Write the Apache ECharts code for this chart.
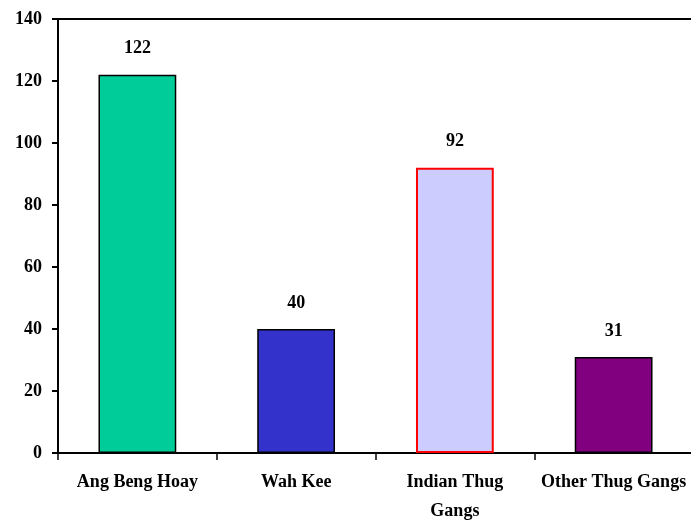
<!DOCTYPE html>
<html><head><meta charset="utf-8">
<script src="https://cdn.jsdelivr.net/npm/echarts@6/dist/echarts.min.js"></script>
<style>html,body{margin:0;padding:0;background:#fff}#c{width:691px;height:521px}</style>
</head><body><div id="c"></div>
<script>
var categories = ['Ang Beng Hoay', 'Wah Kee', 'Indian Thug\nGangs', 'Other Thug Gangs'];
var values = [122, 40, 92, 31];
var yTicks = [0, 20, 40, 60, 80, 100, 120, 140];
var fills = ['#00CC99', '#3333CC', '#CCCCFF', '#800080'];
var borders = ['#000000', '#000000', '#FF0000', '#000000'];

var font = '"Liberation Serif","Times New Roman",serif';
var chart = echarts.init(document.getElementById('c'));
chart.setOption({
  animation: false,
  grid: {left: 58, right: -2, top: 19, bottom: 68, outerBoundsMode: 'none', containLabel: false},
  xAxis: [{
    type: 'category', data: categories,
    axisLine: {lineStyle: {color: '#000', width: 2}},
    axisTick: {show: true, length: 7, lineStyle: {color: '#000', width: 1.5}},
    axisLabel: {color: '#000', fontFamily: font, fontWeight: 'bold', fontSize: 18, margin: 15, lineHeight: 29, interval: 0}
  }, {
    type: 'category', data: categories, position: 'top',
    axisLine: {show: true, lineStyle: {color: '#000', width: 2}},
    axisTick: {show: false}, axisLabel: {show: false}
  }],
  yAxis: {
    type: 'value', min: yTicks[0], max: yTicks[yTicks.length - 1], interval: 20,
    axisLine: {show: true, lineStyle: {color: '#000', width: 2}},
    axisTick: {show: true, length: 6, lineStyle: {color: '#000', width: 2}},
    splitLine: {show: false},
    axisLabel: {color: '#000', fontFamily: font, fontWeight: 'bold', fontSize: 18, margin: 16}
  },
  series: [{
    type: 'bar', barWidth: '49%',
    data: values.map(function (v, i) {
      return {value: v, itemStyle: {color: fills[i], borderColor: borders[i], borderWidth: i === 2 ? 2 : 1.5}};
    }),
    label: {show: true, position: 'top', distance: 17, color: '#000', fontFamily: font, fontWeight: 'bold', fontSize: 18}
  }]
});
</script></body></html>
